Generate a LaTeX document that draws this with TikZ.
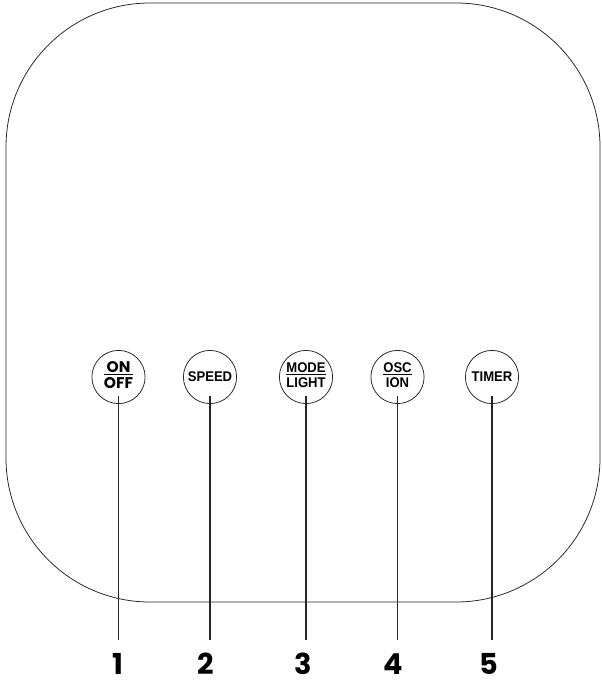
\documentclass[tikz,border=0pt]{standalone}
\usepackage{fontspec}
\usepackage{tikz}
\usetikzlibrary{positioning, calc}

\newfontfamily\btnfont[FakeStretch=0.93]{Liberation Sans}
\newfontfamily\geofont{Poppins}

% button text: two words split by a rule
\newcommand{\btnfrac}[2]{%
  {\setlength{\arrayrulewidth}{0.7pt}%
   \begin{tabular}{@{}c@{}}#1\\[-2.2pt]\hline\noalign{\vskip 1.6pt}#2\end{tabular}}}

\begin{document}
\begin{tikzpicture}[
  x=0.025cm, y=-0.025cm,
  panel/.style={draw=black!85, line width=0.55pt, rounded corners=3.6cm},
  btn/.style={circle, draw=black!85, line width=0.55pt, minimum size=1.33cm,
              inner sep=0pt, align=center, font=\btnfont\bfseries\fontsize{10}{11}\selectfont},
  lead/.style={black!85, line width=0.75pt},
  num/.style={font=\geofont\bfseries\fontsize{20.5}{22}\selectfont, inner sep=0pt, anchor=base}
]
  \def\xA{118.5} \def\xB{210} \def\xC{306} \def\xD{397.5} \def\xE{492}
  \def\ybtn{377} \def\ylead{396} \def\ynum{674}

  \useasboundingbox (0,0) rectangle (602,681);

  %--- panel outline ---
  \draw[panel] (6,3) rectangle (600,602);

  %--- buttons ---
  \node[btn] (b1) at (\xA,\ybtn)
    {\geofont\fontsize{11}{11}\selectfont\btnfrac{ON}{OFF}};
  \node[btn] (b2) at (\xB,\ybtn) {SPEED};
  \node[btn] (b3) at (\xC,\ybtn) {\btnfrac{MODE}{LIGHT}};
  \node[btn] (b4) at (\xD,\ybtn) {\btnfrac{OSC}{ION}};
  \node[btn] (b5) at (\xE,\ybtn) {TIMER};

  %--- numbers ---
  \node[num] (n1) at (\xA-1,\ynum) {1};
  \node[num] (n2) at (\xB-4,\ynum) {2};
  \node[num] (n3) at (\xC-3,\ynum) {3};
  \node[num] (n4) at (\xD-4,\ynum) {4};
  \node[num] (n5) at (\xE-3,\ynum) {5};

  %--- leader lines ---
  \foreach \i in {1,...,5}
    \draw[lead] (b\i.center |- 0,\ylead) -- (b\i.center |- 0,640);

\end{tikzpicture}
\end{document}
